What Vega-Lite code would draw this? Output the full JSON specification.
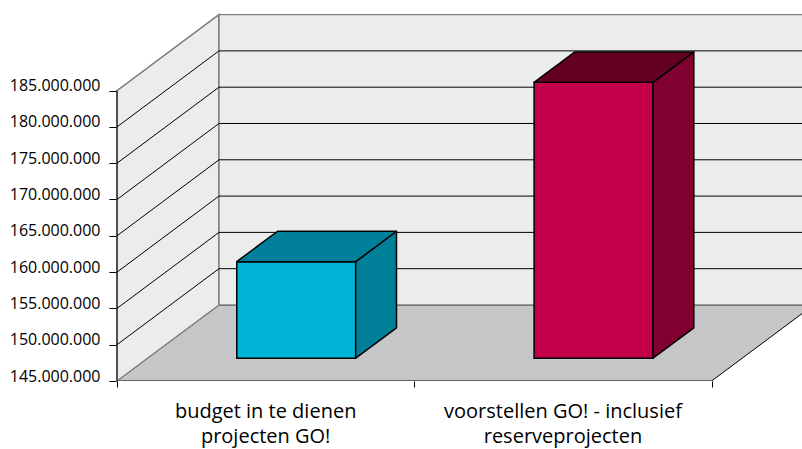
{
  "$schema": "https://vega.github.io/schema/vega-lite/v6.json",
  "width": 685,
  "height": 367,
  "autosize": {"type": "none"},
  "padding": {"left": 117, "top": 14, "right": 0, "bottom": 68},
  "background": "white",
  "config": {"view": {"stroke": null}},
  "datasets": {
    "bedragen": [
      {"project": "budget in te dienen\nprojecten GO!", "bedrag": 158300000},
      {"project": "voorstellen GO! - inclusief\nreserveprojecten", "bedrag": 183000000}
    ],
    "raster": [
      {"v": 150000000}, {"v": 155000000}, {"v": 160000000}, {"v": 165000000},
      {"v": 170000000}, {"v": 175000000}, {"v": 180000000}
    ],
    "diepte": [{"d": 0}, {"d": 1}]
  },
  "layer": [
    {
      "data": {"name": "diepte"},
      "transform": [
        {"calculate": "datum.d * 0.343", "as": "xl"},
        {"calculate": "2 + datum.d * 0.343", "as": "xr"},
        {"calculate": "145000000 + datum.d * 10470000", "as": "yv"}
      ],
      "mark": {"type": "area", "orient": "horizontal", "fill": "#c6c6c8", "stroke": "#000000", "strokeWidth": 1, "clip": true},
      "encoding": {
        "y": {
          "field": "yv", "type": "quantitative",
          "scale": {"domain": [145000000, 195550000], "nice": false, "zero": false},
          "axis": {
            "values": [145000000, 150000000, 155000000, 160000000, 165000000, 170000000, 175000000, 180000000, 185000000],
            "labelExpr": "replace(format(datum.value, ','), regexp(',', 'g'), '.')",
            "title": null, "grid": false, "domain": false, "ticks": true,
            "tickColor": "#000000", "tickSize": 8, "tickWidth": 1,
            "labelPadding": 9, "labelFont": "Open Sans", "labelFontSize": 16,
            "labelColor": "#000000", "labelBaseline": "alphabetic",
            "labelFlush": false, "labelOverlap": false
          }
        },
        "x": {
          "field": "xl", "type": "quantitative",
          "scale": {"domain": [0, 2.304], "nice": false, "zero": false},
          "axis": {
            "values": [0, 1, 2], "labels": false, "title": null, "grid": false,
            "domain": false, "tickColor": "#000000", "tickSize": 6, "tickWidth": 1
          }
        },
        "x2": {"field": "xr"}
      }
    },
    {
      "data": {"name": "diepte"},
      "transform": [
        {"calculate": "datum.d * 0.343", "as": "xw"},
        {"calculate": "145000000 + datum.d * 10470000", "as": "ylo"},
        {"calculate": "185000000 + datum.d * 10470000", "as": "yhi"}
      ],
      "mark": {"type": "area", "fill": "#ebecec", "stroke": "#808080", "strokeWidth": 1.5},
      "encoding": {
        "x": {"field": "xw", "type": "quantitative"},
        "y": {"field": "ylo", "type": "quantitative"},
        "y2": {"field": "yhi"}
      }
    },
    {
      "data": {"name": "diepte"},
      "transform": [
        {"filter": "datum.d == 1"},
        {"calculate": "datum.d * 0.343", "as": "xa"},
        {"calculate": "2 + datum.d * 0.343", "as": "xb"},
        {"calculate": "145000000 + datum.d * 10470000", "as": "ylo"},
        {"calculate": "185000000 + datum.d * 10470000", "as": "yhi"}
      ],
      "mark": {"type": "rect", "fill": "#ebecec", "stroke": "#808080", "strokeWidth": 1.5, "clip": true},
      "encoding": {
        "x": {"field": "xa", "type": "quantitative"},
        "x2": {"field": "xb"},
        "y": {"field": "ylo", "type": "quantitative"},
        "y2": {"field": "yhi"}
      }
    },
    {
      "data": {"name": "raster"},
      "transform": [{"calculate": "datum.v + 10470000", "as": "vb"}],
      "mark": {"type": "rule", "color": "#000000", "strokeWidth": 1, "clip": true},
      "encoding": {
        "x": {"datum": 0.343},
        "x2": {"datum": 2.343},
        "y": {"field": "vb", "type": "quantitative"}
      }
    },
    {
      "data": {"name": "raster"},
      "transform": [{"calculate": "datum.v + 10470000", "as": "vb"}],
      "mark": {"type": "rule", "color": "#000000", "strokeWidth": 1},
      "encoding": {
        "x": {"datum": 0},
        "x2": {"datum": 0.343},
        "y": {"field": "v", "type": "quantitative"},
        "y2": {"field": "vb"}
      }
    },
    {
      "data": {"name": "diepte"},
      "transform": [{"filter": "datum.d == 0"}],
      "mark": {"type": "rule", "color": "#000000", "strokeWidth": 1},
      "encoding": {
        "x": {"datum": 0},
        "y": {"datum": 145000000},
        "y2": {"datum": 185000000}
      }
    },
    {
      "data": {"name": "bedragen"},
      "transform": [
        {"window": [{"op": "row_number", "as": "nr"}]},
        {"calculate": "datum.nr - 0.7 + 0.3 * 0.343", "as": "xa"},
        {"calculate": "datum.nr - 0.3 + 0.3 * 0.343", "as": "xb"},
        {"calculate": "145000000 + 0.3 * 10470000", "as": "ylo"},
        {"calculate": "datum.bedrag + 0.3 * 10470000", "as": "yhi"}
      ],
      "mark": {"type": "rect", "stroke": "#000000", "strokeWidth": 1.5},
      "encoding": {
        "x": {"field": "xa", "type": "quantitative"},
        "x2": {"field": "xb"},
        "y": {"field": "ylo", "type": "quantitative"},
        "y2": {"field": "yhi"},
        "fill": {"condition": {"test": "datum.nr === 1", "value": "#00b4d8"}, "value": "#c5004b"}
      }
    },
    {
      "data": {"name": "bedragen"},
      "transform": [
        {"window": [{"op": "row_number", "as": "nr"}]},
        {"calculate": "0.3", "as": "voor"},
        {"calculate": "0.7", "as": "achter"},
        {"fold": ["voor", "achter"], "as": ["vlak", "d"]},
        {"calculate": "datum.nr - 0.3 + datum.d * 0.343", "as": "xs"},
        {"calculate": "145000000 + datum.d * 10470000", "as": "ylo"},
        {"calculate": "datum.bedrag + datum.d * 10470000", "as": "yhi"}
      ],
      "mark": {"type": "area", "stroke": "#000000", "strokeWidth": 1.5, "strokeJoin": "round"},
      "encoding": {
        "x": {"field": "xs", "type": "quantitative"},
        "y": {"field": "ylo", "type": "quantitative"},
        "y2": {"field": "yhi"},
        "detail": {"field": "project"},
        "fill": {"condition": {"test": "datum.nr === 1", "value": "#007f99"}, "value": "#800030"}
      }
    },
    {
      "data": {"name": "bedragen"},
      "transform": [
        {"window": [{"op": "row_number", "as": "nr"}]},
        {"calculate": "0.3", "as": "voor"},
        {"calculate": "0.7", "as": "achter"},
        {"fold": ["voor", "achter"], "as": ["vlak", "d"]},
        {"calculate": "datum.nr - 0.7 + datum.d * 0.343", "as": "xa"},
        {"calculate": "datum.nr - 0.3 + datum.d * 0.343", "as": "xb"},
        {"calculate": "datum.bedrag + datum.d * 10470000", "as": "yt"}
      ],
      "mark": {"type": "area", "orient": "horizontal", "stroke": "#000000", "strokeWidth": 1.5, "strokeJoin": "round"},
      "encoding": {
        "y": {"field": "yt", "type": "quantitative"},
        "x": {"field": "xa", "type": "quantitative"},
        "x2": {"field": "xb"},
        "detail": {"field": "project"},
        "fill": {"condition": {"test": "datum.nr === 1", "value": "#00809b"}, "value": "#640023"}
      }
    },
    {
      "data": {"name": "bedragen"},
      "transform": [
        {"window": [{"op": "row_number", "as": "nr"}]},
        {"calculate": "datum.nr - 0.5", "as": "xm"}
      ],
      "mark": {"type": "text", "align": "center", "baseline": "alphabetic", "dy": 37, "font": "Open Sans", "fontSize": 20, "lineBreak": "\n", "lineHeight": 25, "color": "#000000"},
      "encoding": {
        "x": {"field": "xm", "type": "quantitative"},
        "y": {"datum": 145000000},
        "text": {"field": "project"}
      }
    }
  ]
}
